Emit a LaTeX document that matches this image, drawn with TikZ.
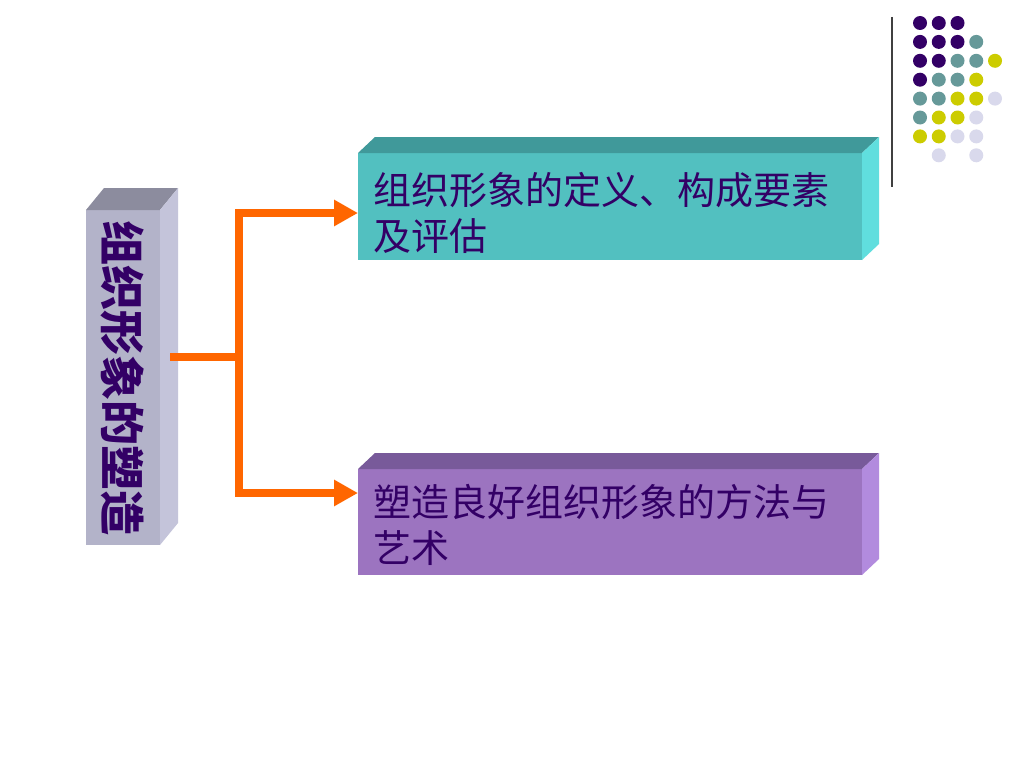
\documentclass[tikz,border=0pt]{standalone}
\usepackage{fontspec}
\newfontfamily\cjk{Noto Sans CJK SC}
\usepackage{xcolor}
\usetikzlibrary{positioning,calc,arrows.meta}

\definecolor{ink}{HTML}{330066}
\definecolor{flow}{HTML}{FF6600}
\definecolor{rootfront}{HTML}{B3B3C9}
\definecolor{roottop}{HTML}{8C8C9E}
\definecolor{rootside}{HTML}{C4C4DA}
\definecolor{deffront}{HTML}{52C0C0}
\definecolor{deftop}{HTML}{40999A}
\definecolor{defside}{HTML}{60DEDE}
\definecolor{artfront}{HTML}{9C74C0}
\definecolor{arttop}{HTML}{785A9A}
\definecolor{artside}{HTML}{B28BDE}
\definecolor{dotP}{HTML}{330066}
\definecolor{dotT}{HTML}{669999}
\definecolor{dotY}{HTML}{CCCC00}
\definecolor{dotL}{HTML}{D9D9EC}

\begin{document}
\begin{tikzpicture}[
    x=1pt, y=-1pt,
    face/.style={rectangle, inner sep=0pt, outer sep=0pt, anchor=north west},
    rootface/.style={face, fill=rootfront, minimum width=74pt, minimum height=335pt},
    defface/.style={face, fill=deffront, minimum width=504pt, minimum height=107pt},
    artface/.style={face, fill=artfront, minimum width=504pt, minimum height=106pt},
    boxtext/.style={anchor=west, inner sep=0pt, align=left, text=ink, font=\cjk\fontsize{38}{46}\selectfont},
    roottext/.style={rotate=-90, inner sep=0pt, text=ink, font=\cjk\bfseries\fontsize{45}{45}\selectfont},
    link/.style={draw=flow, line width=7.5pt},
    divider/.style={draw=black!75, line width=1.5pt}
]
\useasboundingbox (0,0) rectangle (1024,768);
\fill[white] (0,0) rectangle (1024,768);

% left slab
\node[rootface] (root) at (86,210) {};
\fill[roottop] (root.north west) -- ++(18,-22) -- ++(74,0) -- (root.north east) -- cycle;
\fill[rootside] (root.north east) -- ++(18,-22) -- ++(0,335) -- (root.south east) -- cycle;
\node[roottext] (rootlabel) at (123,378) {组织形象的塑造};

% upper box
\node[defface] (def) at (358,153) {};
\fill[deftop] (def.north west) -- ++(17,-16) -- ++(504,0) -- (def.north east) -- cycle;
\fill[defside] (def.north east) -- ++(17,-16) -- ++(0,107) -- (def.south east) -- cycle;
\node[boxtext] (deflabel) at (373,213) {组织形象的定义、构成要素\\及评估};

% lower box
\node[artface] (art) at (358,469) {};
\fill[arttop] (art.north west) -- ++(17,-16) -- ++(504,0) -- (art.north east) -- cycle;
\fill[artside] (art.north east) -- ++(17,-16) -- ++(0,106) -- (art.south east) -- cycle;
\node[boxtext] (artlabel) at (373,525) {塑造良好组织形象的方法与\\艺术};

% connectors
\coordinate (stem) at (170,357);
\coordinate (fork) at (239,357);
\coordinate (upper) at (239,213);
\coordinate (lower) at (239,493);
\draw[link] (stem) -- (fork);
\draw[link, arrows={Triangle[length=24pt,width=25pt]-Triangle[length=24pt,width=25pt]}]
    (upper -| def.west) -- (upper) -- (lower) -- (lower -| art.west);

% corner decoration
\draw[divider] (892,17) -- (892,187);
\foreach \c/\r in {0/0,1/0,2/0,0/1,1/1,2/1,0/2,1/2,0/3}
    \fill[dotP] (920+18.75*\c, 23+18.9*\r) circle (7);
\foreach \c/\r in {3/1,2/2,3/2,1/3,2/3,0/4,1/4,0/5}
    \fill[dotT] (920+18.75*\c, 23+18.9*\r) circle (7);
\foreach \c/\r in {4/2,3/3,2/4,3/4,1/5,2/5,0/6,1/6}
    \fill[dotY] (920+18.75*\c, 23+18.9*\r) circle (7);
\foreach \c/\r in {4/4,3/5,2/6,3/6,1/7,3/7}
    \fill[dotL] (920+18.75*\c, 23+18.9*\r) circle (7);

\end{tikzpicture}
\end{document}
